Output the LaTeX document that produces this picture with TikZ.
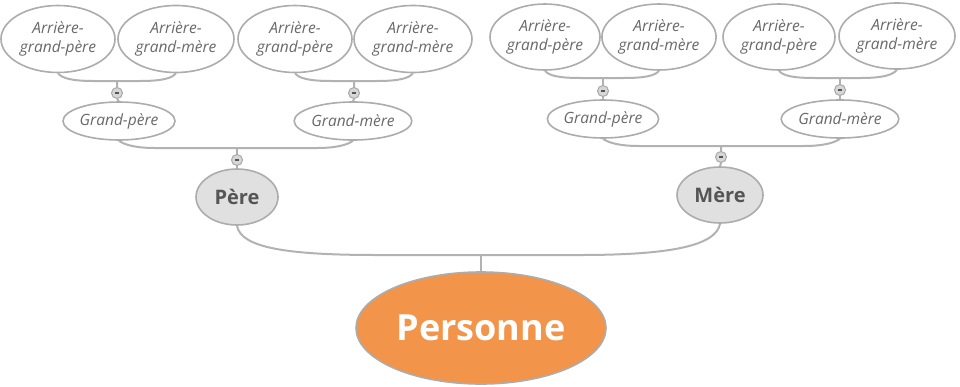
\documentclass[tikz,border=0pt]{standalone}
\usepackage{fontspec}
\setmainfont{Open Sans}
\usetikzlibrary{shapes.geometric,calc}
\definecolor{edgegrey}{RGB}{172,172,172}
\definecolor{linegrey}{RGB}{178,178,178}
\definecolor{txtgrey}{RGB}{105,105,105}
\definecolor{darktxt}{RGB}{85,85,85}
\definecolor{parentfill}{RGB}{224,224,224}
\definecolor{orangefill}{RGB}{242,148,74}
\definecolor{minusfill}{RGB}{215,215,215}
\tikzset{
  anc/.style={ellipse,draw=edgegrey,line width=1.6pt,fill=white,inner sep=0pt,
    text=txtgrey,font=\fontsize{15.5}{18.5}\selectfont\itshape,align=center},
  gp/.style={anc,minimum height=38pt},
  par/.style={ellipse,draw=edgegrey,line width=1.6pt,fill=parentfill,inner sep=0pt,
    text=darktxt,font=\fontsize{20}{23}\selectfont\bfseries,minimum width=82pt,minimum height=56pt},
  root/.style={ellipse,draw=edgegrey,line width=1.6pt,fill=orangefill,inner sep=0pt,
    text=white,font=\fontsize{36}{40}\selectfont\bfseries,minimum width=250pt,minimum height=112pt},
  minus/.style={circle,draw=edgegrey,line width=1.1pt,fill=minusfill,inner sep=0pt,minimum size=11pt,
    path picture={\draw[darktxt,line width=1.3pt] ([xshift=-2pt]path picture bounding box.center) -- ([xshift=2pt]path picture bounding box.center);}},
  conn/.style={draw=linegrey,line width=2pt}
}
% #1 left node, #2 right node, #3 junction, #4 curve run, #5 start control, #6 end control
\newcommand\famjoin[6]{%
  \draw[conn] (#1.south) .. controls +(#5) and ($(#1.south |- #3)+(#4,0)+(-#6,0)$) .. ($(#1.south |- #3)+(#4,0)$)
    -- ($(#2.south |- #3)+(-#4,0)$) .. controls ($(#2.south |- #3)+(-#4,0)+(#6,0)$) and +(-1*#5) .. (#2.south);}
\begin{document}
\begin{tikzpicture}[x=1pt,y=-1pt]
\useasboundingbox (0,0) rectangle (960,386);
% great-grandparents
\node[anc,minimum width=114pt,minimum height=67pt] (a1) at (58,39) {Arrière-\\grand-père};
\node[anc,minimum width=116pt,minimum height=67pt] (a2) at (176,39) {Arrière-\\grand-mère};
\node[anc,minimum width=114pt,minimum height=67pt] (a3) at (295,39) {Arrière-\\grand-père};
\node[anc,minimum width=118pt,minimum height=67pt] (a4) at (413,39) {Arrière-\\grand-mère};
\node[anc,minimum width=110pt,minimum height=66pt] (a5) at (545,37) {Arrière-\\grand-père};
\node[anc,minimum width=112pt,minimum height=66pt] (a6) at (659,37) {Arrière-\\grand-mère};
\node[anc,minimum width=112pt,minimum height=66pt] (a7) at (779,37) {Arrière-\\grand-père};
\node[anc,minimum width=116pt,minimum height=66pt] (a8) at (897,36) {Arrière-\\grand-mère};
% grandparents
\node[gp,minimum width=112pt] (g1) at (119,121) {Grand-père};
\node[gp,minimum width=116pt] (g2) at (353,121) {Grand-mère};
\node[gp,minimum width=110pt] (g3) at (603,119) {Grand-père};
\node[gp,minimum width=116pt] (g4) at (840,119) {Grand-mère};
% parents
\node[par] (pere) at (237,197) {Père};
\node[par,minimum width=86pt] (mere) at (720,195) {Mère};
% root
\node[root] (pers) at (481,328) {Personne};
% junctions
\coordinate (j1) at (117,81);
\coordinate (j2) at (354,81);
\coordinate (j3) at (603,78);
\coordinate (j4) at (840,78);
\coordinate (j5) at (237,148);
\coordinate (j6) at (721,146);
\coordinate (j7) at (481,255);
% minus buttons
\node[minus] (m1) at (117,93) {};
\node[minus] (m2) at (354,93) {};
\node[minus] (m3) at (603,91) {};
\node[minus] (m4) at (840,90) {};
\node[minus] (m5) at (237,160) {};
\node[minus] (m6) at (721,157) {};
% brackets
\famjoin{a1}{a2}{j1}{36}{4,5}{22}
\famjoin{a3}{a4}{j2}{36}{4,5}{22}
\famjoin{a5}{a6}{j3}{36}{4,5}{22}
\famjoin{a7}{a8}{j4}{36}{4,5}{22}
\famjoin{g1}{g2}{j5}{36}{4,3}{22}
\famjoin{g3}{g4}{j6}{36}{4,3}{22}
\famjoin{pere}{mere}{j7}{140}{4,22}{90}
% stems
\draw[conn] (j1) -- (m1.north) (m1.south) -- (g1.north);
\draw[conn] (j2) -- (m2.north) (m2.south) -- (g2.north);
\draw[conn] (j3) -- (m3.north) (m3.south) -- (g3.north);
\draw[conn] (j4) -- (m4.north) (m4.south) -- (g4.north);
\draw[conn] (j5) -- (m5.north) (m5.south) -- (pere.north);
\draw[conn] (j6) -- (m6.north) (m6.south) -- (mere.north);
\draw[conn] (j7) -- (pers.north);
\end{tikzpicture}
\end{document}
